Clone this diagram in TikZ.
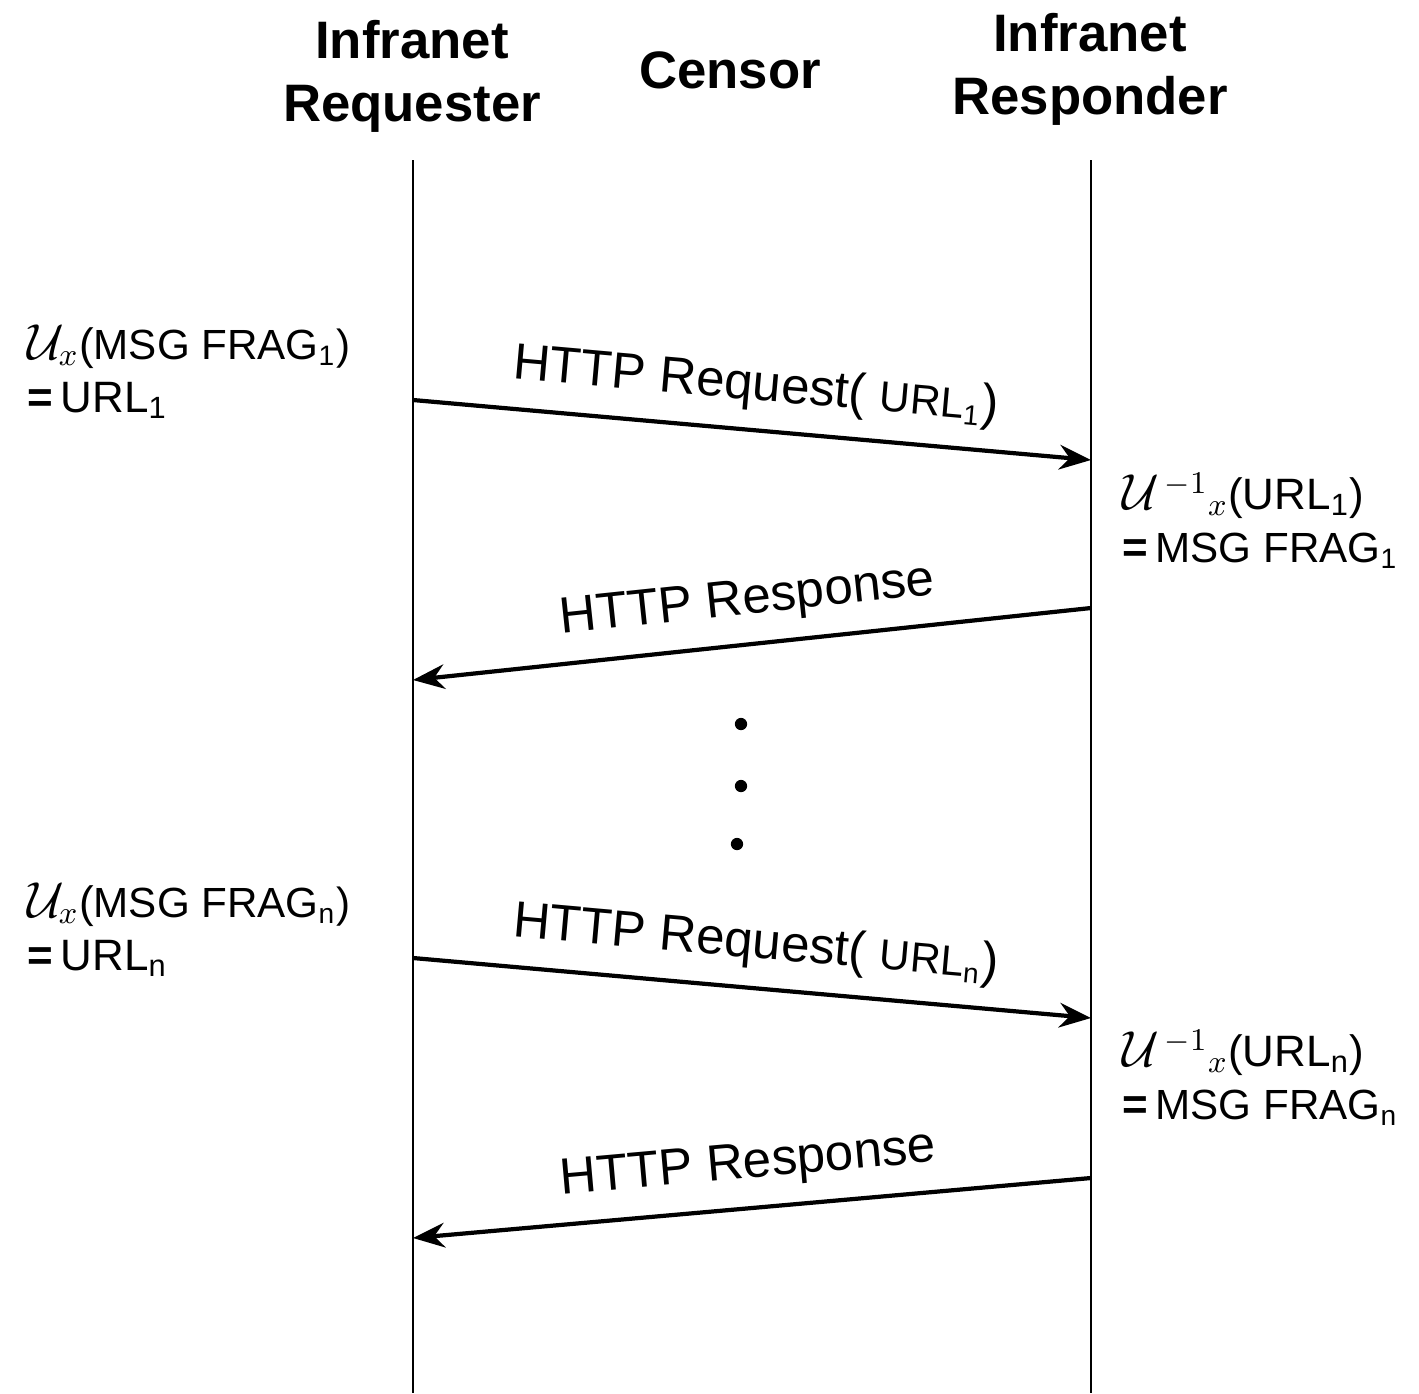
\documentclass[tikz,border=0pt]{standalone}
\usepackage{fontspec}
\setmainfont{Liberation Sans}
\usetikzlibrary{arrows.meta, positioning, calc}
\tikzstyle{actor}    = [font=\fontsize{15}{18}\selectfont\bfseries, align=center]
\tikzstyle{lifeline} = [line width=0.6pt]
\tikzstyle{msg}      = [line width=1.2pt, -{Stealth[length=9pt, width=7pt]}]
\tikzstyle{msglabel} = [font=\fontsize{14.5}{16}\selectfont, sloped, above, inner sep=5pt]
\tikzstyle{note}     = [font=\fontsize{12.5}{16}\selectfont, align=left, anchor=base west, inner sep=0pt]
\tikzstyle{dot}      = [circle, fill=black, inner sep=0pt, minimum size=3.5pt]
\newcommand{\bigU}{$\mathcal{U}$}
\newcommand{\smallfs}{\fontsize{12}{14}\selectfont}

\begin{document}
\begin{tikzpicture}
\useasboundingbox (0,0) rectangle (14.19,-13.93);

% Actors
\node (requester) [actor] at (4.12,-0.76) {Infranet\\Requester};
\node (censor)    [actor] at (7.30,-0.70) {Censor};
\node (responder) [actor] at (10.90,-0.69) {Infranet\\Responder};

% Lifelines
\coordinate (reqtop)  at (4.13,-1.60);
\coordinate (reqbot)  at (4.13,-13.93);
\coordinate (resptop) at (10.91,-1.60);
\coordinate (respbot) at (10.91,-13.93);
\draw [lifeline] (reqtop) -- (reqbot);
\draw [lifeline] (resptop) -- (respbot);

% Message end points
\coordinate (req1)   at (4.13,-4.00);
\coordinate (resp1)  at (10.91,-4.60);
\coordinate (respA)  at (10.91,-6.08);
\coordinate (reqA)   at (4.13,-6.80);
\coordinate (reqn)   at (4.13,-9.58);
\coordinate (respn)  at (10.91,-10.18);
\coordinate (respB)  at (10.91,-11.78);
\coordinate (reqB)   at (4.13,-12.38);

% First round
\draw [msg] (req1) -- node[msglabel]{HTTP Request( {\smallfs URL\textsubscript{1}})} (resp1);
\draw [msg] (respA) -- node[msglabel]{HTTP Response} (reqA);

% Gap
\node (dot1) [dot] at (7.41,-7.24) {};
\node (dot2) [dot] at (7.41,-7.86) {};
\node (dot3) [dot] at (7.37,-8.44) {};

% Last round
\draw [msg] (reqn) -- node[msglabel]{HTTP Request( {\smallfs URL\textsubscript{n}})} (respn);
\draw [msg] (respB) -- node[msglabel]{HTTP Response} (reqB);

% Encoding and decoding notes (anchored on the second line)
\node (enc1) [note] at (0.27,-4.12) {{\Large\bigU}$_{\!x}$(\smallfs MSG FRAG\textsubscript{1})\\[-1pt]\textbf{=}\,URL\textsubscript{1}};
\node (dec1) [note] at (11.22,-5.62) {{\Large\bigU}$^{\,-1}{}_{x}$(URL\textsubscript{1})\\[-1pt]\textbf{=}\,{\smallfs MSG FRAG\textsubscript{1}}};
\node (encn) [note] at (0.27,-9.70) {{\Large\bigU}$_{\!x}$(\smallfs MSG FRAG\textsubscript{n})\\[-1pt]\textbf{=}\,URL\textsubscript{n}};
\node (decn) [note] at (11.22,-11.19) {{\Large\bigU}$^{\,-1}{}_{x}$(URL\textsubscript{n})\\[-1pt]\textbf{=}\,{\smallfs MSG FRAG\textsubscript{n}}};

\end{tikzpicture}
\end{document}
